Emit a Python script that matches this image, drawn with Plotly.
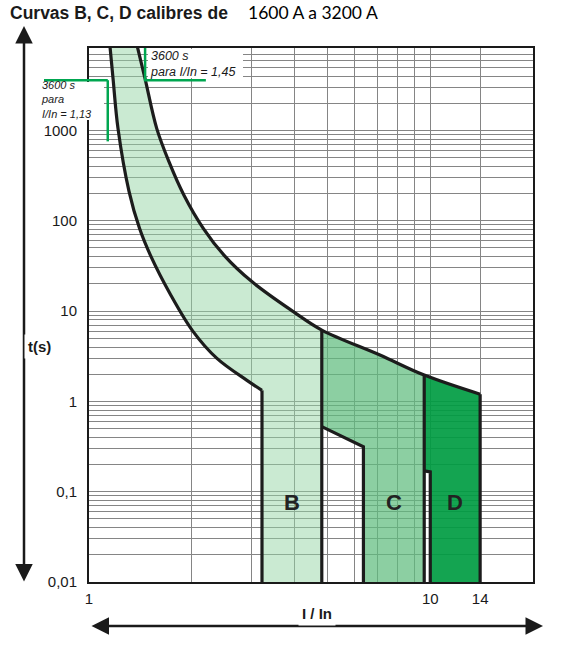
import numpy as np
import plotly.graph_objects as go

# ---------------- data ----------------
title_bold = "Curvas B, C, D calibres de"
title_rest = "1600 A a 3200 A"

# lower (non-tripping) boundary of curve B : I/In , t (s)
left_I = [1.152, 1.176, 1.216, 1.310, 1.406, 1.514, 1.739, 2.017, 2.371, 2.903, 3.213]
left_t = [8540, 3776, 1055, 211.6, 82.4, 41.4, 14.9, 5.96, 2.99, 1.708, 1.324]

# upper (tripping) envelope common to B, C, D
upper_I = [1.385, 1.459, 1.579, 1.715, 1.896, 2.162, 2.485, 3.0, 3.97, 4.81, 7.12, 9.6, 14.0]
upper_t = [8540, 3776, 1055, 451, 193, 82.4, 41.7, 21.2, 9.85, 6.16, 3.26, 1.955, 1.2]

# magnetic thresholds
b_limits = [3.213, 4.81]          # B band: left / right vertical
c_lower_I = [4.81, 6.37]          # C lower step
c_lower_t = [0.525, 0.315]
c_right = 9.6
d_lower_I = [9.6, 10.0]           # D lower step
d_lower_t = [0.17, 0.166]
d_right = 14.0
t_min = 0.01

curve_names = ["B", "C", "D"]

# conventional tripping points (3600 s)
conv_t = 3600
conv_I = [1.135, 1.46]            # drawn at I/In = 1,13 and 1,45
conv_labels = [["3600 s", "para", "I/In = 1,13"], ["3600 s", "para I/In = 1,45"]]

x_ticks = [1, 10, 14]
x_ticktext = ["1", "10", "14"]
y_ticks = [0.01, 0.1, 1, 10, 100, 1000]
y_ticktext = ["0,01", "0,1", "1", "10", "100", "1000"]

# ---------------- axes geometry ----------------
X_RANGE = [0, np.log10(20)]
Y_RANGE = [-2, 3.913]
M_L, M_R, M_T, M_B = 89, 33, 48, 73
W, H = 566, 655
PW, PH = W - M_L - M_R, H - M_T - M_B


def xp(px):
    return (px - M_L) / PW


def yp(py):
    return (H - M_B - py) / PH


def xdata_to_paper(v):
    return (np.log10(v) - X_RANGE[0]) / (X_RANGE[1] - X_RANGE[0])


def ydata_to_paper(v):
    return (np.log10(v) - Y_RANGE[0]) / (Y_RANGE[1] - Y_RANGE[0])


# ---------------- colours ----------------
COL_B = "rgba(150,214,166,0.5)"
COL_C = "rgba(95,188,126,0.72)"
COL_D = "rgba(0,156,66,0.92)"
COL_LINE = "#1c1c1c"
COL_GREEN = "#00a650"
COL_GRID = "#858585"
FONT = "Liberation Sans, Arial, sans-serif"

fig = go.Figure()

upper_I_a = np.array(upper_I)
upper_t_a = np.array(upper_t)

# ---- fills ----
mB = upper_I_a <= b_limits[1]
bx = list(left_I) + [b_limits[0], b_limits[1]] + list(upper_I_a[mB][::-1])
by = list(left_t) + [t_min, t_min] + list(upper_t_a[mB][::-1])
fig.add_trace(go.Scatter(x=bx, y=by, fill="toself", fillcolor=COL_B, mode="lines",
                         line=dict(width=0), hoverinfo="skip"))

mC = (upper_I_a >= c_lower_I[0]) & (upper_I_a <= c_right)
cx = [c_lower_I[0]] + list(upper_I_a[mC]) + [c_right, c_lower_I[1], c_lower_I[1]]
cy = [c_lower_t[0]] + list(upper_t_a[mC]) + [t_min, t_min, c_lower_t[1]]
fig.add_trace(go.Scatter(x=cx, y=cy, fill="toself", fillcolor=COL_C, mode="lines",
                         line=dict(width=0), hoverinfo="skip"))

mD = (upper_I_a >= c_right) & (upper_I_a <= d_right)
dx = list(upper_I_a[mD]) + [d_right, d_lower_I[1], d_lower_I[1], d_lower_I[0]]
dy = list(upper_t_a[mD]) + [t_min, t_min, d_lower_t[1], d_lower_t[0]]
fig.add_trace(go.Scatter(x=dx, y=dy, fill="toself", fillcolor=COL_D, mode="lines",
                         line=dict(width=0), hoverinfo="skip"))

# ---- black outlines ----
blk = dict(color=COL_LINE, width=3.2)
fig.add_trace(go.Scatter(x=left_I, y=left_t, mode="lines",
                         line=dict(shape="spline", smoothing=1.0, **blk), hoverinfo="skip"))
fig.add_trace(go.Scatter(x=upper_I, y=upper_t, mode="lines",
                         line=dict(shape="spline", smoothing=1.0, **blk), hoverinfo="skip"))
segs = [
    ([b_limits[0], b_limits[0]], [left_t[-1], t_min]),
    ([b_limits[1], b_limits[1]], [upper_t[upper_I.index(b_limits[1])], t_min]),
    ([c_lower_I[0], c_lower_I[1], c_lower_I[1]], [c_lower_t[0], c_lower_t[1], t_min]),
    ([c_right, c_right], [upper_t[upper_I.index(c_right)], t_min]),
    ([d_lower_I[0], d_lower_I[1], d_lower_I[1]], [d_lower_t[0], d_lower_t[1], t_min]),
    ([d_right, d_right], [upper_t[-1], t_min]),
]
for sx, sy in segs:
    fig.add_trace(go.Scatter(x=sx, y=sy, mode="lines", line=blk, hoverinfo="skip"))

# ---- white boxes behind the 3600 s notes ----
fig.add_shape(type="rect", xref="paper", yref="paper", x0=xp(148), x1=xp(243),
              y0=yp(78), y1=yp(49), fillcolor="white", line=dict(width=0), layer="above")
fig.add_shape(type="rect", xref="paper", yref="paper", x0=xp(40), x1=xp(104),
              y0=yp(120), y1=yp(82), fillcolor="white", line=dict(width=0), layer="above")

# ---- green conventional-time markers ----
g = dict(color=COL_GREEN, width=2.5)
fig.add_trace(go.Scatter(x=[conv_I[0], conv_I[0]], y=[conv_t, 757], mode="lines",
                         line=g, hoverinfo="skip"))
fig.add_trace(go.Scatter(x=[conv_I[1], conv_I[1], 2.2], y=[10 ** Y_RANGE[1], conv_t, conv_t],
                         mode="lines", line=g, hoverinfo="skip"))
fig.add_shape(type="line", xref="paper", yref="paper",
              x0=xp(44), x1=xdata_to_paper(conv_I[0]),
              y0=ydata_to_paper(conv_t), y1=ydata_to_paper(conv_t),
              line=g, layer="above")

# ---- band letters ----
band_lo = [b_limits[0], c_lower_I[1], d_lower_I[1]]
band_hi = [b_limits[1], c_right, d_right]
for name, lo, hi in zip(curve_names, band_lo, band_hi):
    fig.add_annotation(x=np.log10(np.sqrt(lo * hi)), y=np.log10(0.075), text=f"<b>{name}</b>",
                       showarrow=False, font=dict(family=FONT, size=22, color="#222222"))

# ---- text annotations (one block each) ----
fig.add_annotation(xref="paper", yref="paper", x=xp(41), y=yp(79), xanchor="left",
                   yanchor="top", align="left", borderpad=0, borderwidth=0,
                   text="<br>".join(f"<i>{s}</i>" for s in conv_labels[0]),
                   showarrow=False, font=dict(family=FONT, size=11, color="#1a1a1a"))
fig.add_annotation(xref="paper", yref="paper", x=xp(148), y=yp(47), xanchor="left",
                   yanchor="top", align="left",
                   text="<br>".join(f"<i>{s}</i>" for s in conv_labels[1]),
                   showarrow=False, font=dict(family=FONT, size=12.5, color="#1a1a1a"))

# title
fig.add_annotation(xref="paper", yref="paper", x=xp(8), y=yp(13), xanchor="left",
                   yanchor="middle", text=f"<b>{title_bold}</b>", showarrow=False,
                   font=dict(family=FONT, size=17.5, color="#1a1a1a"))
fig.add_annotation(xref="paper", yref="paper", x=xp(246), y=yp(13), xanchor="left",
                   yanchor="middle", text=title_rest, showarrow=False,
                   font=dict(family="Lato, Carlito, sans-serif", size=17.5, color="#000000"))

# axis arrows and titles
fig.add_annotation(xref="paper", yref="paper", x=xp(24), y=yp(26), ax=0, ay=557,
                   axref="pixel", ayref="pixel", text="", showarrow=True,
                   arrowhead=2, arrowside="end+start", arrowsize=1.4, arrowwidth=2.5,
                   arrowcolor="#1a1a1a", standoff=0, startstandoff=0)
fig.add_annotation(xref="paper", yref="paper", x=xp(543), y=yp(626), ax=-453, ay=0,
                   axref="pixel", ayref="pixel", text="", showarrow=True,
                   arrowhead=2, arrowside="end+start", arrowsize=1.4, arrowwidth=2.5,
                   arrowcolor="#1a1a1a", standoff=0, startstandoff=0)
fig.add_annotation(xref="paper", yref="paper", x=xp(24), y=yp(346), text="<b>t(s)</b>",
                   showarrow=False, bgcolor="white", borderpad=3,
                   font=dict(family=FONT, size=15, color="#1a1a1a"))
fig.add_annotation(xref="paper", yref="paper", x=xp(317), y=yp(626), text="<b>I / In</b>",
                   showarrow=False, bgcolor="white", borderpad=3,
                   font=dict(family=FONT, size=15, color="#1a1a1a"))

# ---------------- axes ----------------
y_minor = [k * 10.0 ** d for d in range(-2, 4) for k in range(2, 10) if k * 10.0 ** d < 10 ** Y_RANGE[1]]
x_minor = list(range(2, 10))

fig.update_xaxes(type="log", range=X_RANGE, tickvals=x_ticks, ticktext=x_ticktext,
                 showgrid=True, gridcolor=COL_GRID, gridwidth=1,
                 minor=dict(tickvals=x_minor, showgrid=True, gridcolor=COL_GRID, gridwidth=1, ticks=""),
                 showline=True, mirror=True, linecolor="#1a1a1a", linewidth=2,
                 ticks="", ticklabelstandoff=2, zeroline=False,
                 tickfont=dict(family=FONT, size=15, color="#1a1a1a"))
fig.update_yaxes(type="log", range=Y_RANGE, tickvals=y_ticks, ticktext=y_ticktext,
                 showgrid=True, gridcolor=COL_GRID, gridwidth=1,
                 minor=dict(tickvals=y_minor, showgrid=True, gridcolor=COL_GRID, gridwidth=1, ticks=""),
                 showline=True, mirror=True, linecolor="#1a1a1a", linewidth=2,
                 ticks="", ticklabelstandoff=7, zeroline=False,
                 tickfont=dict(family=FONT, size=15, color="#1a1a1a"))

fig.update_layout(width=W, height=H, autosize=False,
                  margin=dict(l=M_L, r=M_R, t=M_T, b=M_B),
                  paper_bgcolor="white", plot_bgcolor="white", showlegend=False)

fig.write_html("out.html", config={"displayModeBar": False},
               post_script="document.body.style.margin='0';")
